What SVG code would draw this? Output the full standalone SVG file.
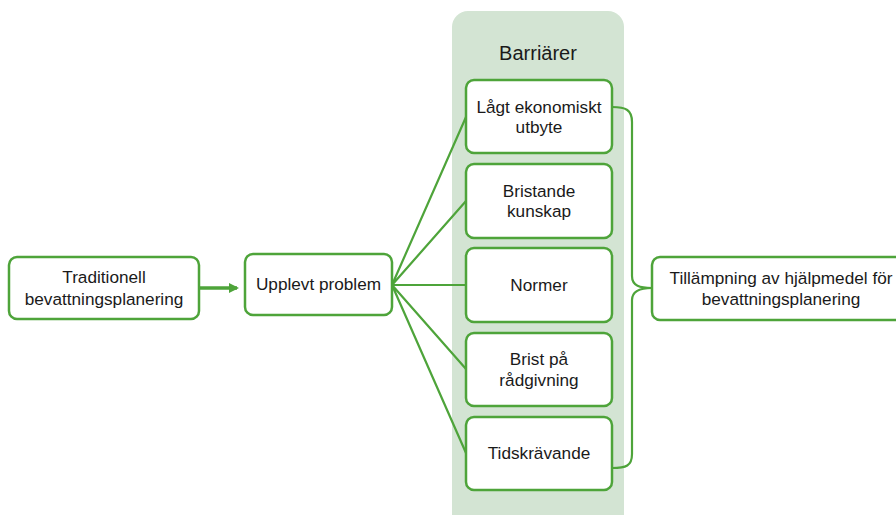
<svg xmlns="http://www.w3.org/2000/svg" width="896" height="515" viewBox="0 0 896 515">
<defs>
<style>
.box{fill:#fff;stroke:#4ea43a;stroke-width:2.5}
.t{font-family:"Liberation Sans",Arial,sans-serif;font-size:17.2px;fill:#1a1a1a;text-anchor:middle}
.c{fill:none;stroke:#4ea43a;stroke-width:2.2}
</style>
<marker id="ah" markerWidth="10" markerHeight="10" refX="8" refY="5" orient="auto" markerUnits="userSpaceOnUse">
<path d="M0,0 L10,5 L0,10 z" fill="#4ea43a"/>
</marker>
</defs>
<rect width="896" height="515" fill="#fff"/>
<g id="panel">
<rect x="452" y="11" width="172" height="530" rx="16" fill="#d3e4d3"/>
<text class="t" x="538" y="60" style="font-size:20px">Barriärer</text>
</g>
<g id="connectors">
<line x1="199" y1="288" x2="237" y2="288" stroke="#4ea43a" stroke-width="3.5" marker-end="url(#ah)"/>
<path class="c" d="M392,285 L466,117 M392,285 L466,201 M392,285 L466,285 M392,285 L466,369 M392,285 L466,453"/>
<path class="c" d="M612,107 C626,107 632,110 632,122 L632,276 C632,286 640,288 652,288 C640,288 632,291 632,300 L632,454 C632,466 626,468 612,468"/>
</g>
<g id="trad">
<rect class="box" x="9" y="257" width="190" height="62" rx="8"/>
<text class="t" x="104" y="283">Traditionell</text>
<text class="t" x="104" y="305">bevattningsplanering</text>
</g>
<g id="upplevt">
<rect class="box" x="245" y="254" width="147" height="61" rx="8"/>
<text class="t" x="318.5" y="290">Upplevt problem</text>
</g>
<g id="b1">
<rect class="box" x="466" y="80" width="146" height="73" rx="8"/>
<text class="t" x="539" y="113">Lågt ekonomiskt</text>
<text class="t" x="539" y="133">utbyte</text>
</g>
<g id="b2">
<rect class="box" x="466" y="164" width="146" height="74" rx="8"/>
<text class="t" x="539" y="197">Bristande</text>
<text class="t" x="539" y="217">kunskap</text>
</g>
<g id="b3">
<rect class="box" x="466" y="248" width="146" height="74" rx="8"/>
<text class="t" x="539" y="291">Normer</text>
</g>
<g id="b4">
<rect class="box" x="466" y="333" width="146" height="73" rx="8"/>
<text class="t" x="539" y="365">Brist på</text>
<text class="t" x="539" y="386">rådgivning</text>
</g>
<g id="b5">
<rect class="box" x="466" y="417" width="146" height="73" rx="8"/>
<text class="t" x="539" y="459">Tidskrävande</text>
</g>
<g id="tillampning">
<rect class="box" x="652" y="257" width="262" height="63" rx="8"/>
<text class="t" x="781" y="284">Tillämpning av hjälpmedel för</text>
<text class="t" x="781" y="305">bevattningsplanering</text>
</g>
</svg>
